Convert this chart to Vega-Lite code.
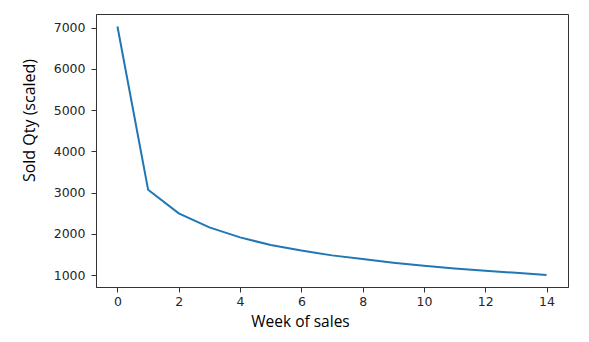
{
  "$schema": "https://vega.github.io/schema/vega-lite/v6.json",
  "autosize": "none",
  "width": 472,
  "height": 273,
  "padding": {"left": 96, "top": 14, "right": 21, "bottom": 55},
  "background": "white",
  "data": {
    "values": [
      {"week": 0, "qty": 7030},
      {"week": 1, "qty": 3070},
      {"week": 2, "qty": 2495},
      {"week": 3, "qty": 2155},
      {"week": 4, "qty": 1913},
      {"week": 5, "qty": 1726},
      {"week": 6, "qty": 1592},
      {"week": 7, "qty": 1476},
      {"week": 8, "qty": 1386},
      {"week": 9, "qty": 1300},
      {"week": 10, "qty": 1223},
      {"week": 11, "qty": 1160},
      {"week": 12, "qty": 1102},
      {"week": 13, "qty": 1052},
      {"week": 14, "qty": 1000}
    ]
  },
  "mark": {"type": "line", "color": "#1f77b4", "strokeWidth": 2},
  "encoding": {
    "x": {
      "field": "week",
      "type": "quantitative",
      "scale": {"domain": [-0.7, 14.7], "nice": false, "zero": false},
      "axis": {
        "values": [0, 2, 4, 6, 8, 10, 12, 14],
        "title": "Week of sales",
        "titleX": 204,
        "titleY": 39,
        "titleAlign": "center",
        "titleBaseline": "alphabetic",
        "titleFontSize": 15.5,
        "labelPadding": 3
      }
    },
    "y": {
      "field": "qty",
      "type": "quantitative",
      "scale": {"domain": [709, 7332], "nice": false, "zero": false},
      "axis": {
        "values": [1000, 2000, 3000, 4000, 5000, 6000, 7000],
        "title": "Sold Qty (scaled)",
        "titleAngle": 270,
        "titleX": -62,
        "titleY": 106,
        "titleAlign": "center",
        "titleBaseline": "alphabetic",
        "labelPadding": 6
      }
    }
  },
  "config": {
    "view": {"stroke": "#333333", "strokeWidth": 1},
    "axis": {
      "grid": false,
      "domainColor": "#333333",
      "tickColor": "#333333",
      "tickSize": 5,
      "labelFont": "DejaVu Sans",
      "labelFontSize": 12.5,
      "labelColor": "#262626",
      "titleFont": "Open Sans",
      "titleFontSize": 16,
      "titleFontWeight": "normal",
      "titleColor": "#000000",
      "format": "d"
    }
  }
}
